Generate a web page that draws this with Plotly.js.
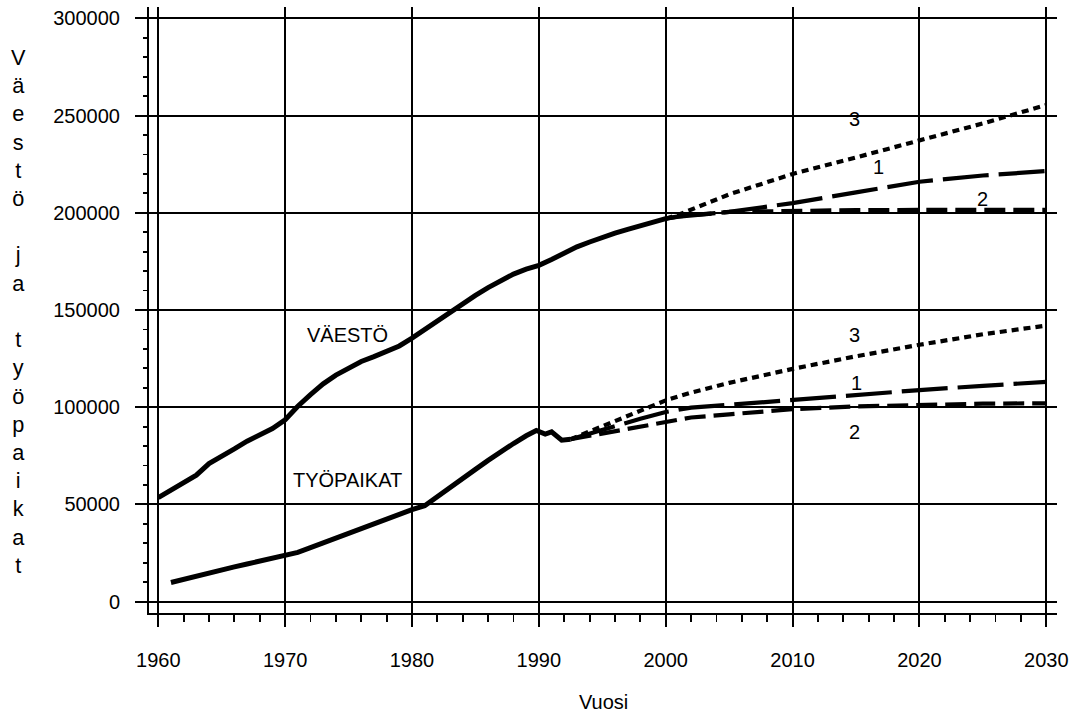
<!DOCTYPE html>
<html>
<head>
<meta charset="utf-8">
<script src="https://cdn.plot.ly/plotly-3.0.1.min.js"></script>
<style>html,body{margin:0;padding:0;background:#fff;}#chart{width:1088px;height:717px;}</style>
</head>
<body>
<div id="chart"></div>
<script>
// ---- Data ----
const popYears = [1960,1961,1962,1963,1964,1965,1966,1967,1968,1969,1970,1971,1972,1973,1974,1975,1976,1977,1978,1979,1980,1981,1982,1983,1984,1985,1986,1987,1988,1989,1990,1991,1992,1993,1994,1995,1996,1997,1998,1999,2000];
const popValues = [53500,57500,61000,65000,71000,74500,78500,82500,85500,89000,93500,100500,106500,112000,116500,120000,123500,126000,128500,131500,135500,140000,144500,149000,153500,157500,161500,165000,168500,171000,173000,176000,179500,182500,185000,187500,189500,191500,193500,195500,197000];

const empYears = [1961,1962,1963,1964,1965,1966,1967,1968,1969,1970,1971,1972,1973,1974,1975,1976,1977,1978,1979,1980,1981,1982,1983,1984,1985,1986,1987,1988,1989,1989.8,1990.5,1991,1991.8,1992.5];
const empValues = [9800,11500,13200,14800,16300,17800,19300,20700,22100,23600,25300,27700,30200,32700,35200,37700,40200,42700,45000,47300,49300,53800,58600,63400,68000,72600,77100,81300,85300,88000,86200,87300,83000,83500];

const popScenYears = [2000,2001,2005,2010,2015,2020,2025,2030];
const popScen1 = [197000,198000,200500,205000,210500,216000,219200,221500];
const popScen2 = [197000,198200,200500,201200,201400,201500,201500,201500];
const popScen3 = [197000,199000,209500,220000,228500,237000,246000,255500];

const empScenYears = [1992.5,1995,1998,2000,2002,2005,2010,2015,2020,2025,2030];
const empScen1 = [83500,88500,94000,97500,99800,101200,103800,106300,108800,111000,113000];
const empScen2 = [83500,86500,90000,92500,94700,96300,99000,100400,101300,101800,102000];
const empScen3 = [83500,90000,98000,103500,107500,112500,119700,126200,132100,137500,142000];

const seriesLabels = ['VÄESTÖ','TYÖPAIKAT'];
const scenarioNames = ['1','2','3'];
const xTitle = 'Vuosi';
const yTitle = 'Väestö ja työpaikat';

// ---- Chart ----
const FONT = 'Liberation Sans, Arial, Helvetica, sans-serif';
const INK = '#000';
const solid = {color:INK, width:5};
function dashed(d){ return {color:INK, width:4.2, dash:d}; }
const DASH1 = '46px,10px', DASH2 = '21px,8px', DASH3 = '7px,5px';

const traces = [
  {x:popYears, y:popValues, mode:'lines', line:solid, name:seriesLabels[0]},
  {x:empYears, y:empValues, mode:'lines', line:solid, name:seriesLabels[1]},
  {x:popScenYears, y:popScen1, mode:'lines', line:dashed(DASH1), name:'V1'},
  {x:popScenYears, y:popScen2, mode:'lines', line:dashed(DASH2), name:'V2'},
  {x:popScenYears, y:popScen3, mode:'lines', line:dashed(DASH3), name:'V3'},
  {x:empScenYears, y:empScen1, mode:'lines', line:dashed(DASH1), name:'T1'},
  {x:empScenYears, y:empScen2, mode:'lines', line:dashed(DASH2), name:'T2'},
  {x:empScenYears, y:empScen3, mode:'lines', line:dashed(DASH3), name:'T3'}
];

const stacked = yTitle.split('').map(c => c === ' ' ? '\u00a0' : c).join('<br>');
const txt = (text, x, y) => ({text, x, y, xref:'x', yref:'y', showarrow:false,
  font:{family:FONT, size:20, color:INK}, xanchor:'center', yanchor:'middle'});

const layout = {
  width:1088, height:717,
  margin:{l:149, r:31, t:7, b:104},
  paper_bgcolor:'#fff', plot_bgcolor:'#fff',
  showlegend:false,
  font:{family:FONT, size:20, color:INK},
  xaxis:{
    range:[1959.27, 2030.84], tickmode:'linear', tick0:1960, dtick:10,
    showgrid:true, gridcolor:INK, gridwidth:2,
    showline:true, linecolor:INK, linewidth:2,
    ticks:'outside', ticklen:12, tickwidth:2, tickcolor:INK,
    minor:{tickmode:'linear', tick0:1960, dtick:2, ticks:'outside', ticklen:7, tickwidth:1.8, tickcolor:INK, showgrid:false},
    zeroline:false, tickfont:{family:FONT, size:20, color:INK}, ticklabelstandoff:16
  },
  yaxis:{
    range:[-5900, 305900], tickmode:'linear', tick0:0, dtick:50000, tickformat:'d',
    showgrid:true, gridcolor:INK, gridwidth:2,
    showline:true, linecolor:INK, linewidth:2,
    ticks:'outside', ticklen:12, tickwidth:2, tickcolor:INK,
    minor:{tickmode:'linear', tick0:0, dtick:10000, ticks:'outside', ticklen:4, tickwidth:1.8, tickcolor:INK, showgrid:false},
    zeroline:false, tickfont:{family:FONT, size:20, color:INK}, ticklabelstandoff:11
  },
  annotations:[
    txt(seriesLabels[0], 1974.9, 137000),
    txt(seriesLabels[1], 1974.9, 62400),
    txt(scenarioNames[2], 2014.9, 248500),
    txt(scenarioNames[0], 2016.8, 223500),
    txt(scenarioNames[1], 2025.0, 207000),
    txt(scenarioNames[2], 2014.9, 137300),
    txt(scenarioNames[0], 2015.0, 112500),
    txt(scenarioNames[1], 2014.9, 87200),
    {text:xTitle, xref:'paper', yref:'paper', x:0.5, y:-0.147, showarrow:false,
     font:{family:FONT, size:20, color:INK}, xanchor:'center', yanchor:'middle'},
    {text:stacked, xref:'paper', yref:'paper', x:-0.144, y:0.497, showarrow:false,
     font:{family:FONT, size:21.7, color:INK}, xanchor:'center', yanchor:'middle', align:'center'}
  ]
};

Plotly.newPlot('chart', traces, layout, {displayModeBar:false, staticPlot:true});
</script>
</body>
</html>
